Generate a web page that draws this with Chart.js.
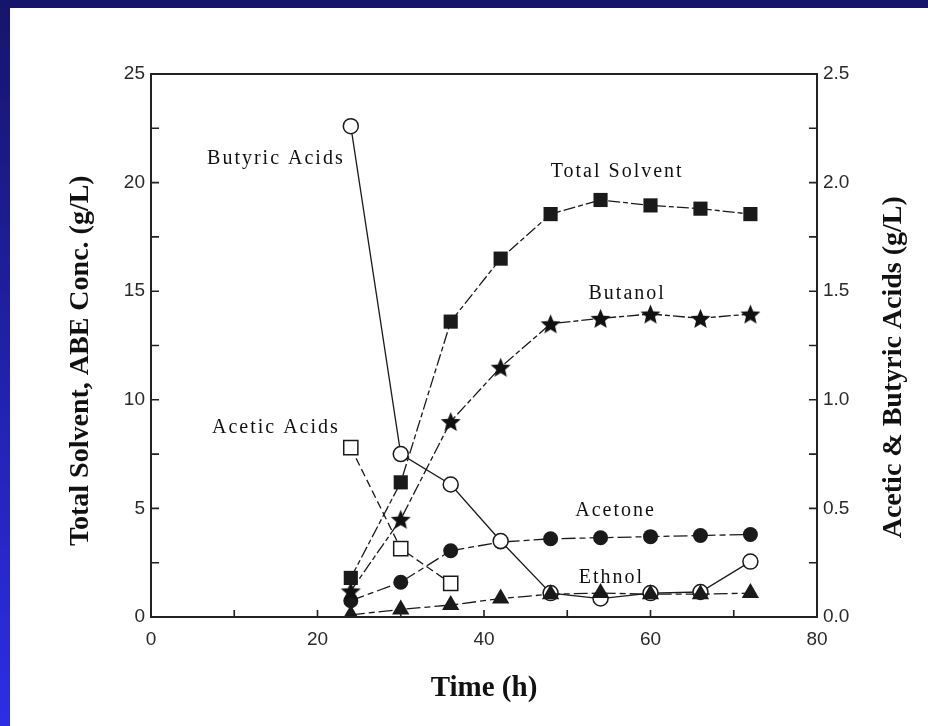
<!DOCTYPE html>
<html><head><meta charset="utf-8">
<script src="https://cdn.jsdelivr.net/npm/chart.js@4.4.1/dist/chart.umd.min.js"></script>
<style>
html,body{margin:0;padding:0;width:928px;height:726px;overflow:hidden;background:#fff;}
#topband{position:absolute;left:0;top:0;width:928px;height:8px;background:#15156c;}
#leftband{position:absolute;left:0;top:0;width:10px;height:726px;background:linear-gradient(#15156c,#2d2de8);}
#wrap{position:absolute;left:0;top:0;width:928px;height:726px;}
</style></head><body>
<div id="topband"></div><div id="leftband"></div>
<div id="wrap"><canvas id="c" width="928" height="726"></canvas></div>
<script>
// ---- data ----
const times = [24, 30, 36, 42, 48, 54, 60, 66, 72];
const totalSolvent = [1.8, 6.2, 13.6, 16.5, 18.55, 19.2, 18.95, 18.8, 18.55];
const butanol = [1.2, 4.5, 9.0, 11.5, 13.5, 13.75, 13.95, 13.75, 13.95];
const acetone = [0.75, 1.6, 3.05, 3.45, 3.6, 3.65, 3.7, 3.75, 3.8];
const ethanol = [0.1, 0.35, 0.55, 0.85, 1.05, 1.1, 1.05, 1.05, 1.1];
const butyricAcid = [2.26, 0.75, 0.61, 0.35, 0.11, 0.085, 0.11, 0.115, 0.255];
const aceticTimes = [24, 30, 36];
const aceticAcid = [0.78, 0.315, 0.155];
const xTicks = [0, 20, 40, 60, 80];
const leftTicks = [0, 5, 10, 15, 20, 25];
const rightTicks = [0.0, 0.5, 1.0, 1.5, 2.0, 2.5];
const seriesLabels = ['Total Solvent', 'Butanol', 'Acetone', 'Ethnol', 'Butyric Acids', 'Acetic Acids'];
// annotation anchors in data units (x in h, y on left axis)
const noteX = [56.0, 57.2, 55.8, 55.3, 15.0, 15.0];
const noteY = [20.5, 14.9, 4.9, 1.8, 21.1, 8.7];

const pts = (xs, ys) => xs.map((x, i) => ({x, y: ys[i]}));

function makeStar(r) {
  const s = Math.ceil(r * 2 + 2);
  const c = document.createElement('canvas');
  c.width = s; c.height = s;
  const g = c.getContext('2d');
  g.translate(s / 2, s / 2 + r * 0.1);
  g.beginPath();
  for (let i = 0; i < 10; i++) {
    const rad = i % 2 ? r * 0.45 : r;
    const a = -Math.PI / 2 + i * Math.PI / 5;
    g.lineTo(rad * Math.cos(a), rad * Math.sin(a));
  }
  g.closePath();
  g.fillStyle = '#111';
  g.fill();
  return c;
}
const star = makeStar(10.5);
const INK = '#1a1a1a';

const common = {borderColor: INK, borderWidth: 1.3, fill: false, tension: 0, pointBorderColor: INK};

const datasets = [
  Object.assign({}, common, {label: seriesLabels[0], data: pts(times, totalSolvent), yAxisID: 'y', borderDash: [12, 3, 5, 3],
    pointStyle: 'rect', pointRadius: 10, pointBackgroundColor: INK, pointBorderWidth: 0, order: 3}),
  Object.assign({}, common, {label: seriesLabels[1], data: pts(times, butanol), yAxisID: 'y', borderDash: [12, 3, 5, 3],
    pointStyle: star, pointRadius: 10, order: 3}),
  Object.assign({}, common, {label: seriesLabels[2], data: pts(times, acetone), yAxisID: 'y', borderDash: [14, 4, 6, 4],
    pointStyle: 'circle', pointRadius: 7.5, pointBackgroundColor: INK, pointBorderWidth: 0, order: 3}),
  Object.assign({}, common, {label: seriesLabels[3], data: pts(times, ethanol), yAxisID: 'y', borderDash: [14, 4, 6, 4],
    pointStyle: 'triangle', pointRadius: 10, pointBackgroundColor: INK, pointBorderWidth: 0, order: 1}),
  Object.assign({}, common, {label: seriesLabels[4], data: pts(times, butyricAcid), yAxisID: 'y2', borderDash: [],
    pointStyle: 'circle', pointRadius: 7.5, pointBackgroundColor: '#fff', pointBorderWidth: 1.5, order: 2}),
  Object.assign({}, common, {label: seriesLabels[5], data: pts(aceticTimes, aceticAcid), yAxisID: 'y2', borderDash: [8, 4],
    pointStyle: 'rect', pointRadius: 10, pointBackgroundColor: '#fff', pointBorderWidth: 1.5, order: 2})
];

const frame = {
  id: 'frame',
  afterDraw(chart) {
    const {ctx, chartArea: a, scales} = chart;
    ctx.save();
    ctx.strokeStyle = '#222';
    ctx.lineWidth = 1.6;
    ctx.lineCap = 'butt';
    ctx.beginPath();
    // inward tick marks
    scales.x.ticks.forEach(t => { const p = scales.x.getPixelForValue(t.value); ctx.moveTo(p, a.bottom); ctx.lineTo(p, a.bottom - 7); });
    scales.y.ticks.forEach(t => { const p = scales.y.getPixelForValue(t.value); ctx.moveTo(a.left, p); ctx.lineTo(a.left + 8, p); });
    scales.y2.ticks.forEach(t => { const p = scales.y2.getPixelForValue(t.value); ctx.moveTo(a.right, p); ctx.lineTo(a.right - 8, p); });
    ctx.stroke();
    ctx.lineWidth = 2;
    ctx.strokeRect(a.left, a.top, a.right - a.left, a.bottom - a.top);
    // series annotations
    ctx.fillStyle = '#111';
    ctx.font = '20px "Liberation Serif", serif';
    ctx.letterSpacing = '2px';
    ctx.textAlign = 'center';
    ctx.textBaseline = 'middle';
    seriesLabels.forEach((s, i) => {
      ctx.fillText(s, scales.x.getPixelForValue(noteX[i]), scales.y.getPixelForValue(noteY[i]));
    });
    ctx.letterSpacing = '0px';
    // axis titles (vertical)
    ctx.font = 'bold 28px "Liberation Serif", serif';
    ctx.fillStyle = '#111';
    ctx.save();
    ctx.translate(81, scales.y.getPixelForValue(11.8));
    ctx.rotate(-Math.PI / 2);
    ctx.fillText('Total Solvent, ABE Conc. (g/L)', 0, 0);
    ctx.restore();
    ctx.save();
    ctx.translate(894, scales.y.getPixelForValue(11.5));
    ctx.rotate(-Math.PI / 2);
    ctx.fillText('Acetic & Butyric Acids (g/L)', 0, 0);
    ctx.restore();
    ctx.restore();
  }
};

const tickFont = {family: '"Liberation Sans", Arial, sans-serif', size: 19};
const tickColor = '#2a2a2a';
const near = (v, list) => list.some(t => Math.abs(t - v) < 1e-6);

new Chart(document.getElementById('c'), {
  type: 'line',
  data: {datasets},
  options: {
    responsive: false, animation: false, devicePixelRatio: 1,
    layout: {padding: {top: 74, left: 0, right: 0, bottom: 0}},
    plugins: {legend: {display: false}, tooltip: {enabled: false}},
    scales: {
      x: {type: 'linear', min: 0, max: 80, position: 'bottom',
        afterFit(s) { s.height = 109; },
        grid: {display: false, drawTicks: false}, border: {display: false},
        ticks: {stepSize: 10, autoSkip: false, maxRotation: 0, padding: 11, font: tickFont, color: tickColor,
          callback: v => near(v, xTicks) ? String(v) : ''},
        title: {display: true, text: 'Time (h)', font: {family: '"Liberation Serif", serif', size: 29, weight: 'bold'}, color: '#111', padding: {top: 0, bottom: 20}}
      },
      y: {type: 'linear', min: 0, max: 25, position: 'left',
        afterFit(s) { s.width = 151; },
        grid: {display: false, drawTicks: false}, border: {display: false},
        ticks: {stepSize: 2.5, autoSkip: false, padding: 6, font: tickFont, color: tickColor,
          callback: v => near(v, leftTicks) ? String(v) : ''}
      },
      y2: {type: 'linear', min: 0, max: 2.5, position: 'right',
        afterFit(s) { s.width = 111; },
        grid: {display: false, drawTicks: false}, border: {display: false},
        ticks: {stepSize: 0.25, autoSkip: false, padding: 6, font: tickFont, color: tickColor,
          callback: v => near(v, rightTicks) ? v.toFixed(1) : ''}
      }
    }
  },
  plugins: [frame]
});
</script>
</body></html>
